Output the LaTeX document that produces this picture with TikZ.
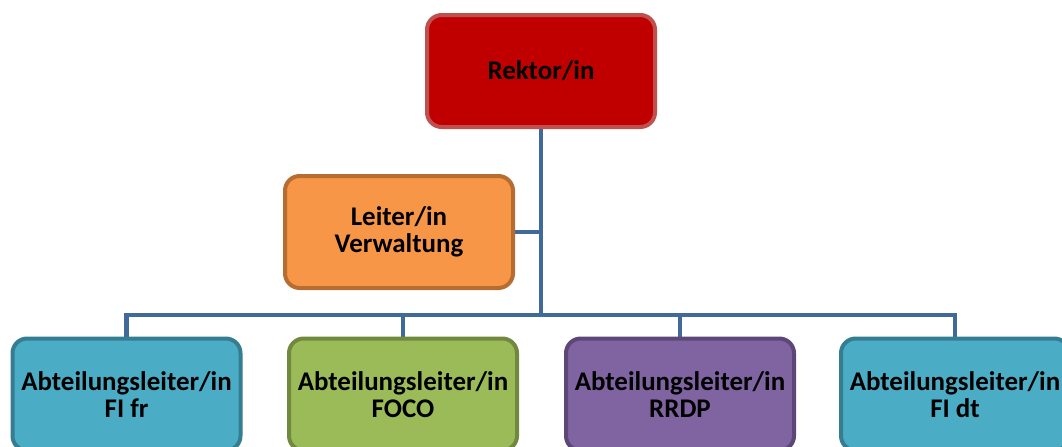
\documentclass[tikz,border=0pt]{standalone}
\usepackage{fontspec}
\setmainfont{Carlito}
\usetikzlibrary{backgrounds}
\definecolor{rekfill}{HTML}{C00000}
\definecolor{rekdraw}{HTML}{C0504D}
\definecolor{orfill}{HTML}{F79646}
\definecolor{ordraw}{HTML}{B66D31}
\definecolor{tefill}{HTML}{4BACC6}
\definecolor{tedraw}{HTML}{357D91}
\definecolor{grfill}{HTML}{9BBB59}
\definecolor{grdraw}{HTML}{71893F}
\definecolor{pufill}{HTML}{8064A2}
\definecolor{pudraw}{HTML}{5C4776}
\definecolor{linec}{HTML}{41699A}
\tikzset{
  orgbox/.style={rectangle, rounded corners=11pt, line width=3pt,
    minimum width=171pt, minimum height=84pt, inner sep=2pt, align=center,
    font=\fontsize{20.2}{20.25}\selectfont\bfseries, text=black},
  conn/.style={draw=linec, line width=3.5pt}
}
\begin{document}
\begin{tikzpicture}[x=0.75pt, y=-0.75pt]
\useasboundingbox (0,0) rectangle (1062,446);
\clip (0,0) rectangle (1062,446);
\node[orgbox, fill=rekfill, draw=rekdraw] (rek) at (541,71) {Rektor/in};
\node[orgbox, fill=orfill, draw=ordraw] (lv) at (399,232) {Leiter/in\\Verwaltung};
\node[orgbox, fill=tefill, draw=tedraw] (b1) at (126.5,394.5) {Abteilungsleiter/in\\FI fr};
\node[orgbox, fill=grfill, draw=grdraw] (b2) at (403,394.5) {Abteilungsleiter/in\\FOCO};
\node[orgbox, fill=pufill, draw=pudraw] (b3) at (680,394.5) {Abteilungsleiter/in\\RRDP};
\node[orgbox, fill=tefill, draw=tedraw] (b4) at (955,394.5) {Abteilungsleiter/in\\FI dt};
\coordinate (bus) at (541,315);
\begin{pgfonlayer}{background}
\draw[conn] (rek.south) -- (bus);
\draw[conn] (lv.east) -- (lv.east -| bus);
\draw[conn] (b1.north) |- (bus) -| (b4.north);
\draw[conn] (b2.north) -- (b2.north |- bus);
\draw[conn] (b3.north) -- (b3.north |- bus);
\end{pgfonlayer}
\end{tikzpicture}
\end{document}
